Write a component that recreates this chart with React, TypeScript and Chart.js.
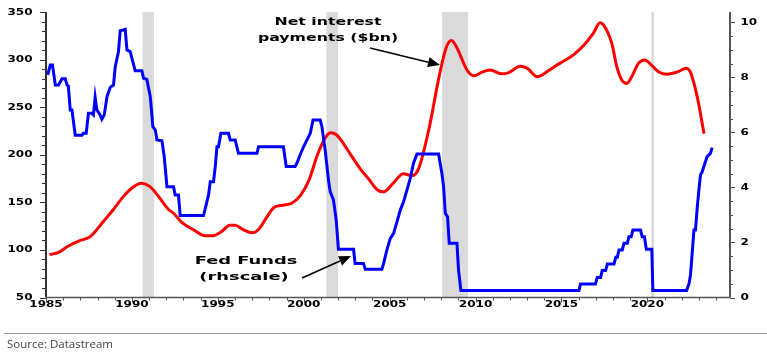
import { useEffect, useRef } from 'react';
import { Chart, registerables } from 'chart.js';

Chart.register(...registerables);

// Net interest payments ($bn), left axis
const netInterestYears = [
  1985.2, 1985.8, 1986.2, 1987.0, 1987.5, 1987.75, 1988.3, 1988.9, 1989.5, 1990.0, 1990.55, 1991.05, 1991.6,
  1992.1, 1992.45, 1992.9, 1993.6, 1994.25, 1994.75, 1995.2, 1995.7, 1996.0, 1996.5, 1997.0, 1997.4, 1997.8,
  1998.3, 1998.8, 1999.3, 1999.8, 2000.3, 2000.8, 2001.2, 2001.55, 2001.9, 2002.3, 2002.7, 2003.3, 2003.8,
  2004.3, 2004.65, 2005.2, 2005.8, 2006.3, 2006.7, 2007.3, 2007.9, 2008.3, 2008.6, 2008.9, 2009.5, 2009.9,
  2010.4, 2010.85, 2011.5, 2011.9, 2012.6, 2013.0, 2013.6, 2014.3, 2014.9, 2015.7, 2016.3, 2016.85,
  2017.25, 2017.45, 2017.93, 2018.22, 2018.51, 2018.8, 2019.09, 2019.48, 2019.86, 2020.25, 2020.64, 2021.13,
  2021.8, 2022.25, 2022.5, 2022.9, 2023.3,
];
const netInterestValues = [
  95, 98, 103, 110, 113, 117, 129, 142, 156, 165, 170, 166.5, 155,
  143, 138, 129, 121, 115, 115, 119, 126, 126, 121, 118, 122, 133,
  145, 147, 149, 157, 173, 200, 216, 223, 221, 212, 201, 185, 174,
  163, 161, 170, 180, 178, 186, 228, 284, 313, 320, 313, 289, 283,
  287, 289, 285, 286, 293, 291, 282, 289, 296, 305, 315, 327.6,
  338.8, 336.4, 317, 292.6, 278.6, 275, 282, 296, 299.6, 294, 287.3, 284.6,
  287.3, 291, 287, 261, 222,
];

// Fed Funds rate (%), right axis
const fedFundsYears = [
  1985.1, 1985.25, 1985.38, 1985.54, 1985.73, 1985.93, 1986.12, 1986.22, 1986.3, 1986.41, 1986.51, 1986.7,
  1987.09, 1987.18, 1987.34, 1987.47, 1987.67, 1987.76, 1987.86, 1987.96, 1988.15, 1988.25, 1988.39, 1988.55,
  1988.74, 1988.93, 1989.03, 1989.22, 1989.32, 1989.51, 1989.61, 1989.71, 1989.9, 1990.19, 1990.58, 1990.68,
  1990.87, 1991.07, 1991.22, 1991.36, 1991.46, 1991.75, 1991.88, 1992.04, 1992.42, 1992.52, 1992.71, 1992.81,
  1994.17, 1994.46, 1994.56, 1994.75, 1994.85, 1994.95, 1995.04, 1995.18, 1995.62, 1995.72, 1996.01, 1996.2,
  1997.28, 1997.37, 1998.82, 1998.98, 1999.5, 1999.6, 1999.8, 1999.99, 2000.19, 2000.38, 2000.54, 2000.96,
  2001.06, 2001.25, 2001.44, 2001.54, 2001.73, 2001.89, 2002.02, 2002.9, 2002.99, 2003.48, 2003.58, 2004.55,
  2004.65, 2004.84, 2005.04, 2005.23, 2005.43, 2005.62, 2005.81, 2006.01, 2006.2, 2006.39, 2006.59, 2007.85,
  2007.94, 2008.04, 2008.14, 2008.24, 2008.37, 2008.47, 2008.92, 2009.01, 2009.15, 2016.02, 2016.11, 2016.98,
  2017.08, 2017.28, 2017.37, 2017.57, 2017.67, 2018.06, 2018.16, 2018.25, 2018.35, 2018.54, 2018.64, 2018.83,
  2018.93, 2019.06, 2019.16, 2019.6, 2019.7, 2019.83, 2019.94, 2020.26, 2020.32, 2022.28, 2022.42, 2022.51,
  2022.61, 2022.71, 2022.8, 2022.9, 2023.0, 2023.09, 2023.19, 2023.38, 2023.48, 2023.67, 2023.77,
];
const fedFundsRates = [
  8.09, 8.45, 8.45, 7.73, 7.73, 7.95, 7.95, 7.73, 7.69, 6.82, 6.82, 5.9,
  5.9, 5.97, 5.97, 6.7, 6.7, 6.64, 7.28, 6.82, 6.64, 6.48, 6.64, 7.3,
  7.64, 7.73, 8.39, 8.94, 9.7, 9.73, 9.75, 9.0, 8.94, 8.24, 8.24, 7.97,
  7.93, 7.3, 6.21, 6.09, 5.73, 5.7, 5.12, 4.03, 4.03, 3.73, 3.73, 2.98,
  2.98, 3.73, 4.21, 4.21, 4.76, 5.48, 5.48, 5.97, 5.97, 5.73, 5.73, 5.24,
  5.24, 5.48, 5.48, 4.76, 4.76, 4.88, 5.2, 5.48, 5.73, 5.97, 6.45, 6.45,
  6.21, 5.36, 4.27, 3.85, 3.55, 2.82, 1.75, 1.75, 1.24, 1.24, 1.03, 1.03,
  1.24, 1.73, 2.15, 2.33, 2.76, 3.18, 3.48, 3.91, 4.33, 4.88, 5.22, 5.22,
  4.88, 4.52, 4.03, 3.06, 2.94, 1.97, 1.97, 1.0, 0.25, 0.25, 0.49, 0.49,
  0.73, 0.73, 0.98, 0.98, 1.22, 1.22, 1.46, 1.46, 1.73, 1.73, 1.97, 1.97,
  2.21, 2.21, 2.45, 2.45, 2.21, 2.21, 1.75, 1.75, 0.25, 0.25, 0.49, 0.82,
  1.61, 2.45, 2.45, 3.24, 3.91, 4.45, 4.57, 4.94, 5.12, 5.24, 5.45,
];

// Recession shading
const recessionStarts = [1990.62, 2001.32, 2008.06, 2020.23];
const recessionEnds = [1991.28, 2002.0, 2009.56, 2020.39];

// Tick labels
const leftTickLabels = [50, 100, 150, 200, 250, 300, 350];
const rightTickLabels = [0, 2, 4, 6, 8, 10];
const yearTickLabels = [1985, 1990, 1995, 2000, 2005, 2010, 2015, 2020];

const netInterestLabel = ['Net interest', 'payments ($bn)'];
const fedFundsLabel = ['Fed Funds', '(rhscale)'];
const sourceText = 'Source: Datastream';

function stretchedText(ctx: CanvasRenderingContext2D, text: string, x: number, y: number, font: string, sx: number, align: CanvasTextAlign) {
  ctx.save();
  ctx.translate(x, y);
  ctx.scale(sx, 1);
  ctx.font = font;
  ctx.textAlign = align;
  ctx.textBaseline = 'middle';
  ctx.fillStyle = '#000';
  ctx.fillText(text, 0, 0);
  ctx.restore();
}

function arrow(ctx: CanvasRenderingContext2D, x0: number, y0: number, x1: number, y1: number) {
  const ang = Math.atan2(y1 - y0, x1 - x0);
  const len = 12;
  const hw = 5;
  const bx = x1 - len * Math.cos(ang);
  const by = y1 - len * Math.sin(ang);
  ctx.save();
  ctx.strokeStyle = '#000';
  ctx.fillStyle = '#000';
  ctx.lineWidth = 1.6;
  ctx.beginPath();
  ctx.moveTo(x0, y0);
  ctx.lineTo(bx, by);
  ctx.stroke();
  ctx.beginPath();
  ctx.moveTo(x1, y1);
  ctx.lineTo(bx + hw * Math.sin(ang), by - hw * Math.cos(ang));
  ctx.lineTo(bx - hw * Math.sin(ang), by + hw * Math.cos(ang));
  ctx.closePath();
  ctx.fill();
  ctx.restore();
}

const bandsPlugin = {
  id: 'recessionBands',
  beforeDatasetsDraw(chart: any) {
    const { ctx, chartArea, scales } = chart;
    ctx.save();
    ctx.fillStyle = '#dadada';
    recessionStarts.forEach((s, i) => {
      const x0 = scales.x.getPixelForValue(s);
      const x1 = scales.x.getPixelForValue(recessionEnds[i]);
      ctx.fillRect(x0, chartArea.top, x1 - x0, chartArea.bottom - chartArea.top);
    });
    ctx.restore();
  },
};

const axesPlugin = {
  id: 'customAxes',
  afterDatasetsDraw(chart: any) {
    const { ctx, chartArea, scales } = chart;
    const { left, right, top, bottom } = chartArea;
    const tickFont = 'bold 8px "DejaVu Sans"';
    ctx.save();
    ctx.strokeStyle = '#333';
    ctx.lineWidth = 2;
    ctx.beginPath();
    ctx.moveTo(left, top);
    ctx.lineTo(left, bottom);
    ctx.stroke();
    ctx.strokeStyle = '#555';
    ctx.beginPath();
    ctx.moveTo(right, top);
    ctx.lineTo(right, bottom);
    ctx.stroke();
    ctx.lineWidth = 1.5;
    ctx.beginPath();
    ctx.moveTo(left, bottom);
    ctx.lineTo(right, bottom);
    ctx.stroke();

    ctx.lineWidth = 1;
    ctx.strokeStyle = '#333';
    for (let v = 50; v <= 350; v += 10) {
      const y = Math.round(scales.y.getPixelForValue(v)) + 0.5;
      const len = v % 50 === 0 ? 5 : 3;
      ctx.beginPath();
      ctx.moveTo(left - 1 - len, y);
      ctx.lineTo(left, y);
      ctx.stroke();
    }
    ctx.strokeStyle = '#555';
    for (let v = 0; v <= 10; v += 0.5) {
      const y = Math.round(scales.y1.getPixelForValue(v)) + 0.5;
      const len = v % 2 === 0 ? 4 : 2;
      ctx.beginPath();
      ctx.moveTo(right, y);
      ctx.lineTo(right + 1 + len, y);
      ctx.stroke();
    }
    for (let yr = 1985; yr <= 2024; yr += 1) {
      const x = Math.round(scales.x.getPixelForValue(yr)) + 0.5;
      const len = yr % 5 === 0 ? 4 : 2;
      ctx.beginPath();
      ctx.moveTo(x, bottom);
      ctx.lineTo(x, bottom + 1 + len);
      ctx.stroke();
    }
    ctx.restore();

    leftTickLabels.forEach((v) => {
      stretchedText(ctx, String(v), 32.5, scales.y.getPixelForValue(v) + 0.5, tickFont, 1.5, 'right');
    });
    rightTickLabels.forEach((v) => {
      stretchedText(ctx, String(v), 740.5, scales.y1.getPixelForValue(v) + 0.5, tickFont, 1.5, 'left');
    });
    yearTickLabels.forEach((yr) => {
      stretchedText(ctx, String(yr), scales.x.getPixelForValue(yr), 305, tickFont, 1.5, 'center');
    });

    stretchedText(ctx, netInterestLabel[0], 328, 22, 'bold 10.5px "DejaVu Sans"', 1.5, 'center');
    stretchedText(ctx, netInterestLabel[1], 328, 38, 'bold 10.5px "DejaVu Sans"', 1.5, 'center');
    arrow(ctx, 370, 48, 440, 65);
    stretchedText(ctx, fedFundsLabel[0], 246, 261, 'bold 11.3px "DejaVu Sans"', 1.58, 'center');
    stretchedText(ctx, fedFundsLabel[1], 244, 277, 'bold 11.3px "DejaVu Sans"', 1.58, 'center');
    arrow(ctx, 302, 278, 351, 256);
  },
};

export default function App() {
  const ref = useRef<HTMLCanvasElement | null>(null);
  useEffect(() => {
    if (!ref.current) return;
    const chart = new Chart(ref.current, {
      type: 'line',
      data: {
        datasets: [
          {
            label: 'Fed Funds (rhscale)',
            data: fedFundsYears.map((x, i) => ({ x, y: fedFundsRates[i] })),
            yAxisID: 'y1',
            borderColor: '#0000ff',
            borderWidth: 3,
            pointRadius: 0,
            tension: 0,
            fill: false,
          },
          {
            label: 'Net interest payments ($bn)',
            data: netInterestYears.map((x, i) => ({ x, y: netInterestValues[i] })),
            yAxisID: 'y',
            borderColor: '#ff0000',
            borderWidth: 3,
            pointRadius: 0,
            cubicInterpolationMode: 'monotone',
            fill: false,
          },
        ],
      } as any,
      options: {
        animation: false,
        responsive: false,
        devicePixelRatio: 1,
        layout: { padding: { left: 46, right: 37, top: 12, bottom: 58.5 } },
        plugins: { legend: { display: false }, tooltip: { enabled: false } },
        scales: {
          x: { type: 'linear', min: 1985, max: 2024.81, display: false },
          y: { type: 'linear', min: 50, max: 350, display: false, position: 'left' },
          y1: { type: 'linear', min: 0, max: 10.38, display: false, position: 'right' },
        },
      } as any,
      plugins: [bandsPlugin, axesPlugin],
    });
    return () => chart.destroy();
  }, []);

  return (
    <div style={{ position: 'absolute', left: 0, top: 0, width: 767, height: 356, background: '#fff' }}>
      <canvas ref={ref} width={767} height={356} style={{ position: 'absolute', left: 0, top: 0, width: 767, height: 356 }} />
      <div style={{ position: 'absolute', left: 4, right: 0, top: 333, height: 1, background: '#9a9a9a' }} />
      <div
        style={{
          position: 'absolute',
          left: 7,
          top: 337,
          fontFamily: '"Open Sans", sans-serif',
          fontSize: 11.5,
          lineHeight: '14px',
          color: '#444',
          whiteSpace: 'nowrap',
        }}
      >
        {sourceText}
      </div>
    </div>
  );
}
